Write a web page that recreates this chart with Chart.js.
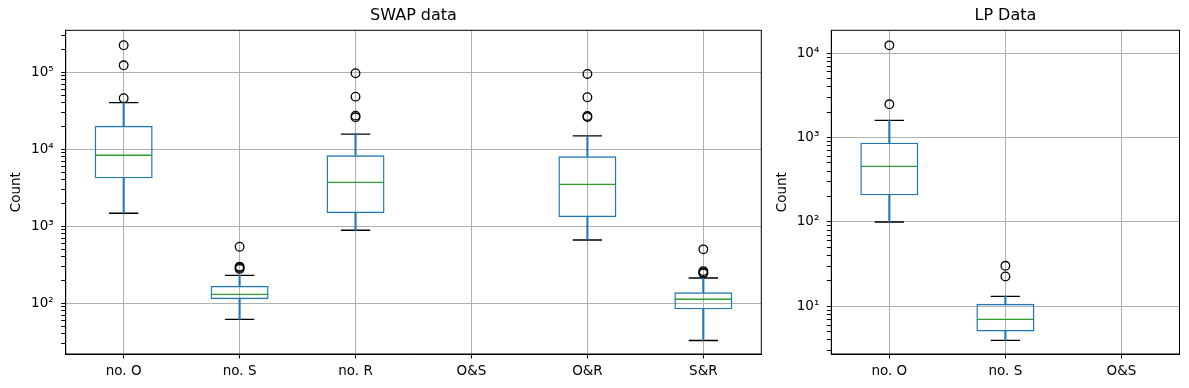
<!DOCTYPE html>
<html>
<head>
<meta charset="utf-8">
<script src="https://cdn.jsdelivr.net/npm/chart.js@4"></script>
<style>
html, body { margin: 0; padding: 0; background: #fff; overflow: hidden; }
#swapBox { position: absolute; left: 0; top: 0; width: 765px; height: 388px; }
#lpBox { position: absolute; left: 765px; top: 0; width: 424px; height: 388px; }
</style>
</head>
<body>
<div id="swapBox"><canvas id="swap"></canvas></div>
<div id="lpBox"><canvas id="lp"></canvas></div>
<script>
// SWAP data (left panel)
const swapLabels = ['no. O', 'no. S', 'no. R', 'O&S', 'O&R', 'S&R'];
const swapLow = [1480, 62, 887, null, 664, 33];
const swapQ1 = [4200, 113, 1480, null, 1310, 83.6];
const swapMedian = [8360, 131, 3720, null, 3500, 113];
const swapQ3 = [20200, 169, 8360, null, 8100, 139];
const swapHigh = [40300, 231, 15700, null, 14900, 213];
const swapOutliers = [
    [224000, 123000, 46000],
    [543, 300, 290, 280],
    [97000, 48200, 27300, 26000],
    [],
    [95000, 47300, 27000, 26200],
    [502, 262, 252, 245]
];

// LP data (right panel)
const lpLabels = ['no. O', 'no. S', 'O&S'];
const lpLow = [100, 3.94, null];
const lpQ1 = [207, 5.04, null];
const lpMedian = [457, 7.0, null];
const lpQ3 = [871, 10.7, null];
const lpHigh = [1600, 13.1, null];
const lpOutliers = [[12400, 2480], [30.2, 22.6], []];

const sup = ['⁰', '¹', '²', '³', '⁴', '⁵', '⁶'];

Chart.defaults.font.family = "'DejaVu Sans', sans-serif";
Chart.defaults.color = '#000';

function isMajor(v) {
    let l = Math.log10(v);
    return Math.abs(l - Math.round(l)) < 1e-9;
}

function logTicks(min, max) {
    let t = [];
    for (let e = Math.floor(Math.log10(min)); e <= Math.ceil(Math.log10(max)); e++) {
        for (let m = 1; m < 10; m++) {
            let v = m * Math.pow(10, e);
            if (v >= min && v <= max) t.push(v);
        }
    }
    return t;
}

// black frame round the plot area
const frame = {
    id: 'frame',
    afterDraw(chart) {
        let a = chart.chartArea, ctx = chart.ctx;
        ctx.save();
        ctx.strokeStyle = '#000';
        ctx.lineWidth = 1;
        ctx.strokeRect(a.left, a.top, a.right - a.left, a.bottom - a.top);
        ctx.restore();
    }
};

function boxChart(id, title, labels, low, q1, med, q3, high, outliers, yMin, yMax, yWidth, padRight, titlePad) {
    let range = (a, b) => a.map((v, i) => v == null ? null : [v, b[i]]);
    let fliers = [];
    outliers.forEach((list, i) => list.forEach(v => fliers.push({x: labels[i], y: v})));
    let bar = {type: 'bar', grouped: false, categoryPercentage: 1, borderSkipped: false};
    let mark = {type: 'line', showLine: false, pointBackgroundColor: 'rgba(0,0,0,0)'};
    new Chart(document.getElementById(id), {
        data: {
            labels: labels,
            datasets: [
                {...bar, data: range(low, q1), barThickness: 1.4, backgroundColor: '#1f77b4', borderWidth: 0},
                {...bar, data: range(q3, high), barThickness: 1.4, backgroundColor: '#1f77b4', borderWidth: 0},
                {...bar, data: range(q1, q3), barPercentage: 0.5, backgroundColor: 'rgba(0,0,0,0)',
                    borderColor: '#1f77b4', borderWidth: 1.4},
                {...mark, data: low, pointStyle: 'line', pointRadius: 14.7, pointBorderColor: '#000', pointBorderWidth: 1.4},
                {...mark, data: high, pointStyle: 'line', pointRadius: 14.7, pointBorderColor: '#000', pointBorderWidth: 1.4},
                {...mark, data: med, pointStyle: 'line', pointRadius: 28.5, pointBorderColor: '#2ca02c', pointBorderWidth: 1.3},
                {...mark, data: fliers, pointStyle: 'circle', pointRadius: 4.3, pointBorderColor: '#000', pointBorderWidth: 1.3}
            ]
        },
        options: {
            maintainAspectRatio: false,
            animation: false,
            events: [],
            layout: {autoPadding: false, padding: {left: 0, right: padRight, top: 0, bottom: 0}},
            plugins: {
                legend: {display: false},
                tooltip: {enabled: false},
                title: {
                    display: true, text: title, fullSize: false, color: '#000',
                    font: {size: 16, weight: 'normal'}, padding: {top: 6, bottom: 5.1}
                }
            },
            scales: {
                x: {
                    type: 'category',
                    offset: true,
                    grid: {offset: false, color: '#b0b0b0', lineWidth: 1, tickColor: '#000', tickLength: 4.5},
                    border: {color: '#000', width: 1},
                    ticks: {color: '#000', font: {size: 13.5}, padding: 4.5, maxRotation: 0},
                    afterFit: s => { s.height = 34; s.paddingLeft = 0; s.paddingRight = 0; }
                },
                y: {
                    type: 'logarithmic',
                    min: yMin,
                    max: yMax,
                    afterBuildTicks: s => { s.ticks = logTicks(yMin, yMax).map(v => ({value: v})); },
                    ticks: {
                        autoSkip: false, color: '#000', font: {size: 13.5}, padding: 7.5,
                        callback: v => isMajor(v) ? '10' + sup[Math.round(Math.log10(v))] : ''
                    },
                    grid: {
                        color: c => (c.tick && isMajor(c.tick.value)) ? '#b0b0b0' : 'rgba(0,0,0,0)',
                        lineWidth: 1, tickColor: '#000', tickLength: 4.5
                    },
                    border: {color: '#000', width: 1},
                    title: {display: true, text: 'Count', color: '#000', font: {size: 13.5}, padding: {top: titlePad, bottom: 0}},
                    afterFit: s => { s.width = yWidth; s.paddingTop = 0; s.paddingBottom = 0; }
                }
            }
        },
        plugins: [frame]
    });
}

boxChart('swap', 'SWAP data', swapLabels, swapLow, swapQ1, swapMedian, swapQ3, swapHigh, swapOutliers,
    22, 350000, 65.7, 3.7, 8.4);
boxChart('lp', 'LP Data', lpLabels, lpLow, lpQ1, lpMedian, lpQ3, lpHigh, lpOutliers,
    2.72, 18700, 66.3, 9.5, 8.9);
</script>
</body>
</html>
